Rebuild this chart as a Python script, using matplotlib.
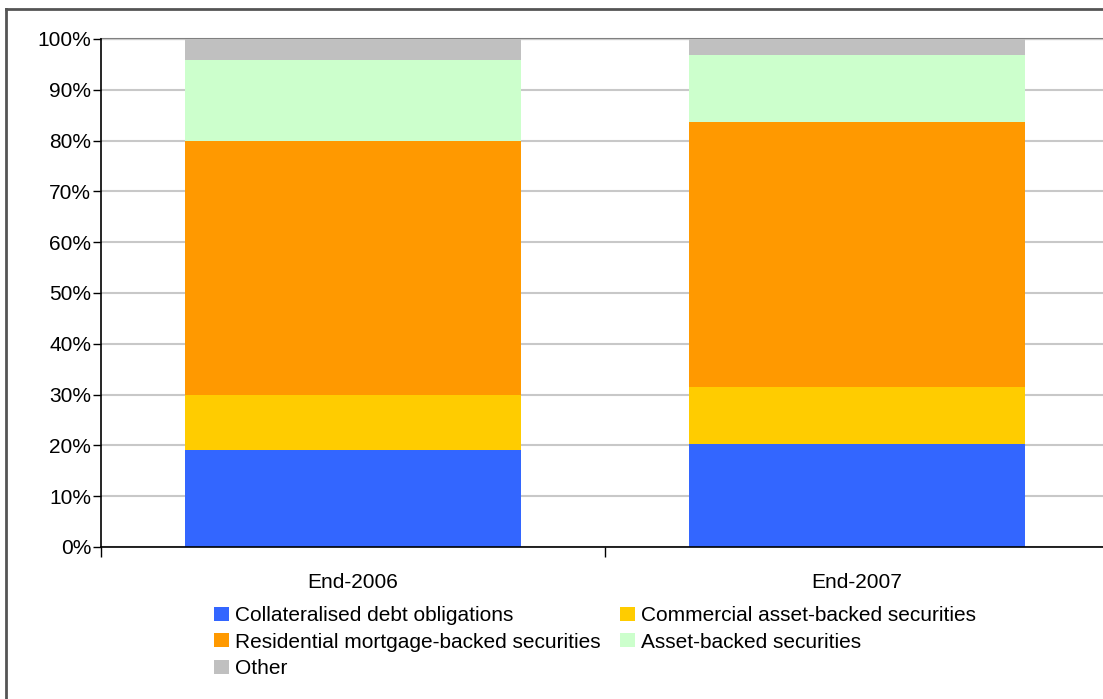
import matplotlib.pyplot as plt
import numpy as np
from matplotlib.lines import Line2D
from matplotlib.patches import Patch
from matplotlib.ticker import FuncFormatter, MultipleLocator

CATEGORIES = ["End-2006", "End-2007"]
SERIES = [
    "Collateralised debt obligations",
    "Commercial asset-backed securities",
    "Residential mortgage-backed securities",
    "Asset-backed securities",
    "Other",
]
CDO = [19.1, 20.3]
CMBS = [10.8, 11.2]
RMBS = [50.0, 52.2]
ABS = [16.0, 13.2]
OTHER = [4.1, 3.1]
COLORS = ["#3366ff", "#ffcc00", "#ff9900", "#ccffcc", "#c0c0c0"]

plt.rcParams["font.family"] = ["Liberation Sans", "DejaVu Sans"]
FONT_SIZE = 15

fig = plt.figure(figsize=(11.03, 6.99), dpi=100)
ax = fig.add_axes((101 / 1103, 1 - 547 / 699, 1008 / 1103, 508 / 699))

x = np.arange(len(CATEGORIES))
bottom = np.zeros(len(CATEGORIES))
handles = []
for name, values, color in zip(SERIES, [CDO, CMBS, RMBS, ABS, OTHER], COLORS):
    ax.bar(x, values, width=0.667, bottom=bottom, color=color, zorder=2)
    bottom += values
    handles.append(Patch(facecolor=color, edgecolor="none", label=name))

ax.set_xlim(-0.5, 1.5)
ax.set_ylim(0, 100)
ax.yaxis.set_major_locator(MultipleLocator(10))
ax.yaxis.set_major_formatter(FuncFormatter(lambda v, _: f"{v:.0f}%"))
ax.grid(axis="y", color="#c8c8c8", linewidth=1.5, zorder=0)
ax.axhline(100, color="#808080", linewidth=1.5, zorder=1, clip_on=False)

ax.set_xticks([-0.5, 0.5])
ax.set_xticklabels([])
ax.set_xticks(x, minor=True)
ax.set_xticklabels(CATEGORIES, minor=True, fontsize=FONT_SIZE)
ax.tick_params(axis="x", which="major", length=7, width=1, color="black", direction="out")
ax.tick_params(axis="x", which="minor", length=0, pad=19)
ax.tick_params(axis="y", length=6, width=1, color="black", direction="out",
               labelsize=FONT_SIZE, pad=1)

for side in ("top", "right"):
    ax.spines[side].set_visible(False)
for side in ("left", "bottom"):
    ax.spines[side].set_color("black")
    ax.spines[side].set_linewidth(1.2)

order = [0, 2, 4, 1, 3]
fig.legend(
    [handles[i] for i in order],
    [SERIES[i] for i in order],
    loc="upper left",
    bbox_to_anchor=(214 / 1103, 1 - 606 / 699),
    ncols=2,
    frameon=False,
    fontsize=FONT_SIZE,
    handlelength=0.72,
    handleheight=0.67,
    handletextpad=0.3,
    columnspacing=0.9,
    labelspacing=0.36,
    borderaxespad=0,
    borderpad=0,
)

# outer frame (cropped on the right and bottom)
fig.add_artist(Line2D([6 / 1103, 6 / 1103], [0, 1 - 9 / 699], color="#555555",
                      linewidth=2, transform=fig.transFigure))
fig.add_artist(Line2D([6 / 1103, 1], [1 - 9 / 699, 1 - 9 / 699], color="#555555",
                      linewidth=2, transform=fig.transFigure))

fig.savefig("out.png", dpi=100)
